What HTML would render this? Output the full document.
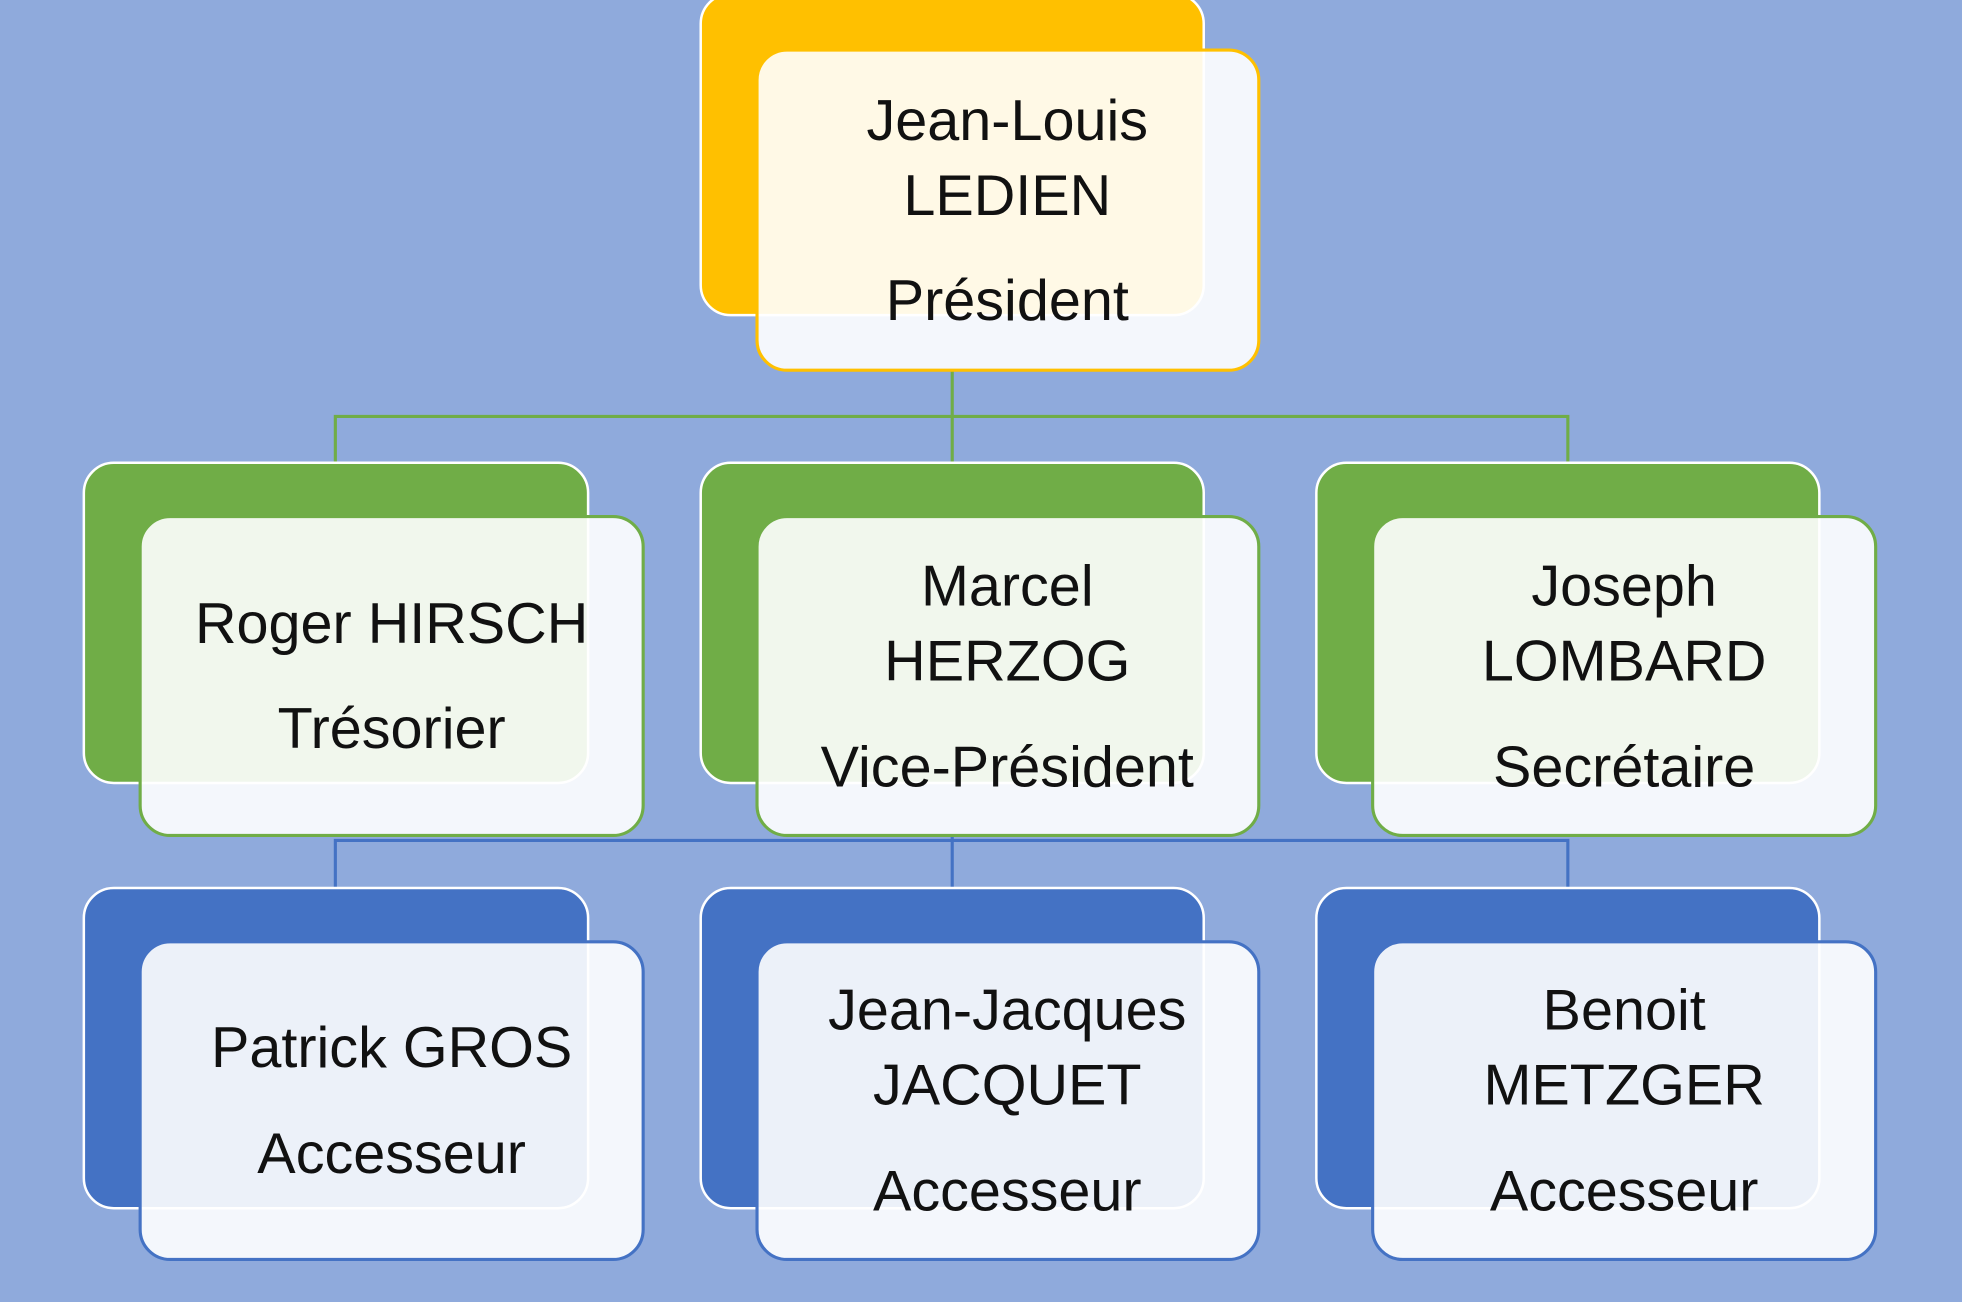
<!DOCTYPE html>
<html><head><meta charset="utf-8"><style>
html,body{margin:0;padding:0;background:#8FAADC;}
svg{display:block}
text{font-family:"Liberation Sans",sans-serif;font-size:46px;fill:#111;text-anchor:middle}
</style></head><body>
<svg width="1962" height="1302" viewBox="0 0 1568 1041" preserveAspectRatio="none">
<rect x="0" y="0" width="1568" height="1041" fill="#8FAADC"/>
<g fill="none" stroke-width="2.5">
<path d="M761 296 V333 M268 370 V333 H1253 V370 M761 333 V370" stroke="#70AD47"/>
<path d="M761 668 V710 M268 710 V672 H1253 V710" stroke="#4472C4"/>
</g>
<rect x="560" y="-5" width="402" height="257" rx="24" fill="#FFC000" stroke="#fff" stroke-width="2"/>
<rect x="605" y="40" width="401" height="256" rx="24" fill="rgba(255,255,255,0.9)" stroke="#FFC000" stroke-width="2.5"/>
<text x="805" y="112">Jean-Louis</text><text x="805" y="172">LEDIEN</text><text x="805" y="256">Président</text>
<g stroke-width="2">
<rect x="67" y="370" width="403" height="256" rx="24" fill="#70AD47" stroke="#fff"/>
<rect x="560" y="370" width="402" height="256" rx="24" fill="#70AD47" stroke="#fff"/>
<rect x="1052" y="370" width="402" height="256" rx="24" fill="#70AD47" stroke="#fff"/>
</g>
<g fill="rgba(255,255,255,0.9)" stroke="#70AD47" stroke-width="2.5">
<rect x="112" y="413" width="402" height="255" rx="24"/>
<rect x="605" y="413" width="401" height="255" rx="24"/>
<rect x="1097" y="413" width="402" height="255" rx="24"/>
</g>
<text x="313" y="514">Roger HIRSCH</text><text x="313" y="598">Trésorier</text>
<text x="805" y="484">Marcel</text><text x="805" y="544">HERZOG</text><text x="805" y="629">Vice-Président</text>
<text x="1298" y="484">Joseph</text><text x="1298" y="544">LOMBARD</text><text x="1298" y="629">Secrétaire</text>
<g stroke-width="2">
<rect x="67" y="710" width="403" height="256" rx="24" fill="#4472C4" stroke="#fff"/>
<rect x="560" y="710" width="402" height="256" rx="24" fill="#4472C4" stroke="#fff"/>
<rect x="1052" y="710" width="402" height="256" rx="24" fill="#4472C4" stroke="#fff"/>
</g>
<g fill="rgba(255,255,255,0.9)" stroke="#4472C4" stroke-width="2.5">
<rect x="112" y="753" width="402" height="254" rx="24"/>
<rect x="605" y="753" width="401" height="254" rx="24"/>
<rect x="1097" y="753" width="402" height="254" rx="24"/>
</g>
<text x="313" y="853">Patrick GROS</text><text x="313" y="938">Accesseur</text>
<text x="805" y="823">Jean-Jacques</text><text x="805" y="883">JACQUET</text><text x="805" y="968">Accesseur</text>
<text x="1298" y="823">Benoit</text><text x="1298" y="883">METZGER</text><text x="1298" y="968">Accesseur</text>
</svg>
</body></html>
